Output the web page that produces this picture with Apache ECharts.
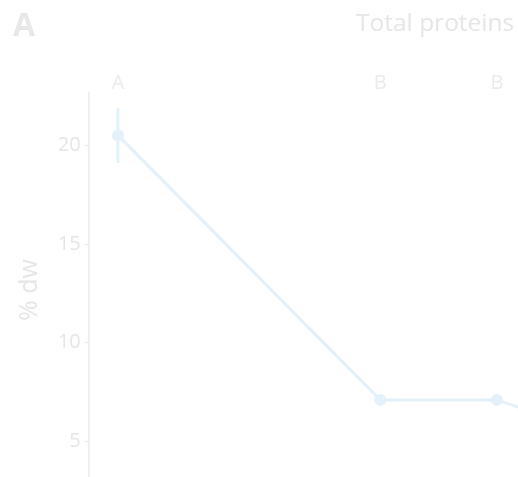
<!DOCTYPE html>
<html>
<head>
<meta charset="utf-8">
<script src="https://cdn.jsdelivr.net/npm/echarts@6/dist/echarts.min.js"></script>
<style>
  html, body { margin: 0; padding: 0; background: #ffffff; }
  #chart { width: 518px; height: 477px; }
</style>
</head>
<body>
<div id="chart"></div>
<script>
// Sampling times (days) and total protein content (% dry weight)
const days = [1, 10, 14, 18];
const proteins = [20.5, 7.1, 7.1, 5.1];
const errors = [1.4, 0.2, 0.2, 0.2];
const groups = ['A', 'B', 'B', ''];
const yTicks = [5, 10, 15, 20];

const lineColor = '#e4f1fa';
const textColor = '#e6e6e6';
const fontFamily = '"Open Sans", "Noto Sans", sans-serif';

const points = days.map((d, i) => [d, proteins[i]]);
const bars = days.map((d, i) => [d, proteins[i] - errors[i], proteins[i] + errors[i]]);
const letters = days.map((d, i) => [d, 23.15, groups[i]]);

const chart = echarts.init(document.getElementById('chart'), null, { renderer: 'canvas' });
chart.setOption({
  animation: false,
  backgroundColor: '#ffffff',
  title: [
    { text: 'A', left: 8, top: 6,
      textStyle: { fontFamily, fontSize: 32, fontWeight: 'bold', color: '#e8e8e8' } },
    { text: 'Total proteins', left: 351, top: 7,
      textStyle: { fontFamily, fontSize: 24.5, fontWeight: 'normal', color: textColor } }
  ],
  // plot area runs past the right and bottom edges of the canvas
  grid: { left: 88.8, top: 92, width: 583, height: 448, outerBoundsMode: 'none', containLabel: false },
  xAxis: {
    type: 'value', min: 0, max: 20, show: false
  },
  yAxis: {
    type: 'value', min: 0, max: 22.7, interval: 5,
    name: '% dw', nameLocation: 'middle', nameGap: 46, nameRotate: 90,
    nameTextStyle: { fontFamily, fontSize: 25, color: textColor, padding: [0, 0, 0, 52] },
    axisLine: { show: true, lineStyle: { color: '#ebebeb', width: 1.5 } },
    axisTick: { show: true, length: 4, customValues: yTicks, lineStyle: { color: '#ebebeb' } },
    axisLabel: { customValues: yTicks, fontFamily, fontSize: 20, color: textColor, margin: 8 },
    splitLine: { show: false }
  },
  series: [
    {
      type: 'custom',
      data: bars,
      z: 1,
      renderItem: function (params, api) {
        const x = api.value(0);
        const lo = api.coord([x, api.value(1)]);
        const hi = api.coord([x, api.value(2)]);
        return {
          type: 'line',
          shape: { x1: lo[0], y1: lo[1], x2: hi[0], y2: hi[1] },
          style: { stroke: lineColor, lineWidth: 3 }
        };
      }
    },
    {
      type: 'line',
      data: points,
      z: 2,
      symbol: 'circle',
      symbolSize: 12,
      lineStyle: { color: lineColor, width: 3 },
      itemStyle: { color: lineColor },
      clip: false
    },
    {
      type: 'scatter',
      data: letters,
      symbolSize: 0,
      clip: false,
      label: {
        show: true, position: 'inside',
        formatter: p => p.value[2],
        fontFamily, fontSize: 20, color: textColor
      }
    }
  ]
});
</script>
</body>
</html>
